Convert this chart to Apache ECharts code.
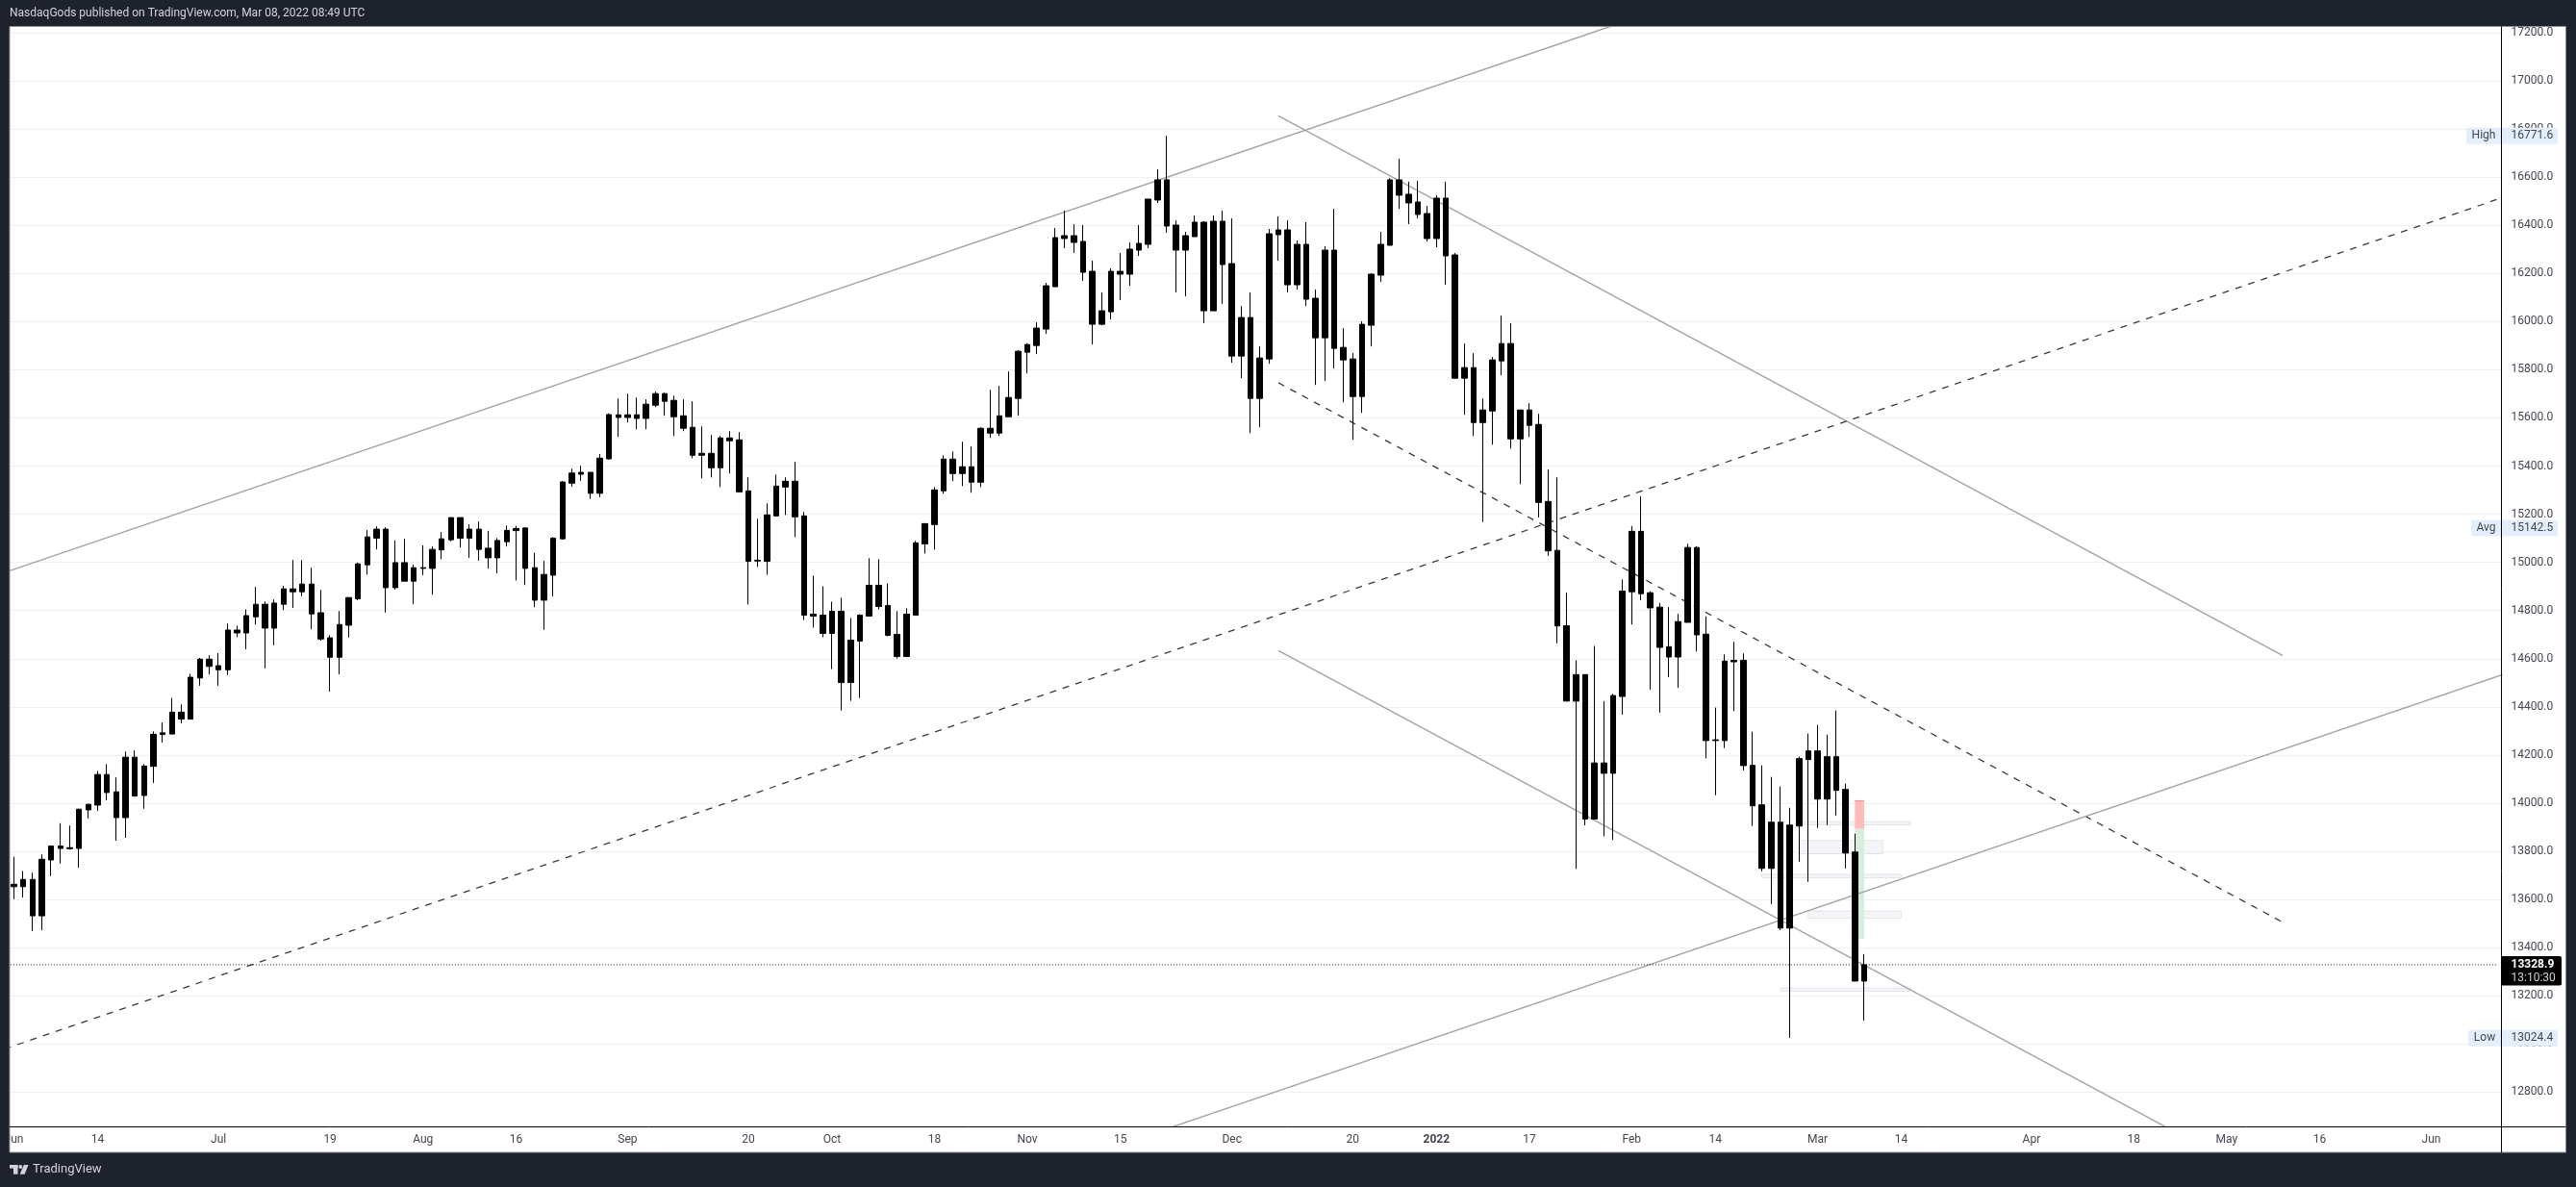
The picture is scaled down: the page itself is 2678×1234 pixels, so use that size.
<!DOCTYPE html>
<html><head><meta charset="utf-8">
<style>html,body{margin:0;padding:0;background:#1e222d}#c{width:2678px;height:1234px}</style>
<script src="https://cdn.jsdelivr.net/npm/echarts@6/dist/echarts.min.js"></script>
</head><body><div id="c"></div>
<script>
// Daily bars, Jun 2021 .. 8 Mar 2022. Up and down candles are painted the same black in the
// reference, so direction is not readable: the body is stored by its top and bottom edge.
const highs = [
13777,13718,13711,13787,13825,13917,13907,13975,13997,14134,
14162,14107,14214,14219,14162,14298,14335,14437,14410,14537,
14603,14615,14623,14746,14737,14805,14898,14838,14846,14903,
15010,15010,14978,14886,14698,14798,14854,14999,15134,15150,
15146,15091,15098,14991,15071,15066,15126,15186,15186,15158,
15170,15131,15101,15153,15152,15143,15040,15006,15105,15338,
15389,15401,15374,15450,15619,15681,15701,15685,15677,15709,
15705,15693,15677,15669,15565,15529,15525,15545,15541,15353,
15181,15245,15365,15353,15417,15209,14945,14901,14837,14853,
14769,14785,15017,15013,14913,14797,14809,15089,15161,15313,
15445,15461,15501,15481,15561,15717,15733,15793,15881,15910,
15997,16161,16389,16461,16405,16401,16253,16121,16221,16285,
16329,16401,16509,16633,16772,16421,16373,16441,16417,16441,
16461,16429,16065,16121,15897,16385,16437,16421,16337,16413,
16133,16313,16469,15973,15869,16001,16201,16373,16596,16677,
16581,16585,16481,16525,16581,16285,15909,15869,15681,15853,
16025,15993,15633,15661,15617,15386,15353,14874,14593,14534,
14653,14424,14454,14929,15151,15275,14880,14832,14814,14786,
15077,15066,14776,14397,14618,14670,14622,14297,14157,14109,
14069,13981,14193,14289,14325,14285,14385,14081,13873,13373];
const bodyTop = [
13663,13683,13683,13767,13822,13822,13815,13975,13995,14119,
14119,14047,14191,14191,14154,14286,14292,14378,14378,14523,
14598,14598,14571,14719,14719,14779,14826,14826,14831,14890,
14890,14910,14910,14791,14687,14742,14854,14994,15106,15138,
15138,14999,14999,14978,14978,15054,15098,15186,15186,15138,
15138,15059,15091,15133,15141,15143,14978,14950,15101,15334,
15371,15374,15374,15433,15614,15613,15613,15613,15657,15701,
15701,15673,15609,15561,15453,15453,15517,15517,15509,15297,
15009,15197,15317,15337,15337,15193,14785,14781,14797,14797,
14677,14781,14905,14905,14821,14701,14785,15081,15161,15301,
15429,15429,15397,15397,15557,15557,15609,15685,15877,15905,
15973,16149,16349,16357,16357,16333,16209,16045,16209,16209,
16301,16325,16509,16589,16589,16401,16357,16413,16413,16417,
16417,16241,16017,16017,15849,16365,16381,16381,16321,16321,
16097,16297,16297,15893,15845,15989,16197,16321,16589,16589,
16529,16497,16449,16513,16513,16277,15809,15809,15633,15841,
15909,15909,15633,15633,15573,15253,15050,14737,14534,14534,
14167,14167,14447,14881,15129,15129,14874,14814,14650,14754,
15062,15062,14702,14263,14590,14593,14593,14157,13993,13921,
13921,13909,14185,14217,14217,14193,14193,14057,13797,13329];
const bodyBottom = [
13653,13653,13532,13532,13764,13812,13811,13812,13972,13992,
14044,13940,13940,14030,14032,14153,14285,14287,14349,14349,
14520,14568,14554,14554,14707,14707,14774,14727,14727,14826,
14878,14878,14786,14682,14606,14606,14739,14849,14990,15101,
14895,14895,14922,14922,14975,14975,15052,15094,15101,15101,
15054,15019,15019,15086,15132,14975,14843,14843,14947,15098,
15329,15366,15287,15287,15430,15602,15602,15598,15598,15653,
15669,15605,15557,15445,15445,15393,15393,15505,15293,15005,
15006,15005,15193,15313,15189,14781,14777,14705,14705,14501,
14501,14673,14777,14817,14697,14609,14609,14781,15077,15157,
15297,15369,15369,15333,15333,15537,15537,15605,15681,15873,
15901,15969,16145,16345,16329,16205,15989,15989,16041,16197,
16197,16297,16321,16505,16397,16297,16297,16353,16045,16045,
16237,15857,15857,15681,15681,15845,16361,16153,16153,16093,
15933,15933,15889,15841,15689,15689,15985,16193,16317,16525,
16493,16445,16345,16345,16273,15765,15765,15581,15581,15629,
15837,15513,15513,15569,15249,15048,14736,14424,14424,13934,
13934,14124,14124,14443,14878,14870,14811,14647,14607,14607,
14751,14699,14260,14260,14260,14587,14156,13989,13729,13729,
13481,13481,13905,14181,14017,14017,14053,13793,13261,13261];
const lows = [
13601,13608,13469,13472,13697,13749,13807,13732,13936,13968,
14012,13844,13856,14027,13977,14084,14252,14287,14332,14349,
14488,14535,14488,14532,14690,14639,14742,14560,14656,14802,
14811,14860,14722,14675,14463,14535,14688,14843,14950,15054,
14792,14887,14922,14826,14947,14866,15014,15088,15062,15019,
15007,14974,14955,15066,14925,14906,14814,14720,14858,15095,
15314,15339,15264,15271,15427,15522,15581,15553,15553,15645,
15609,15525,15545,15433,15349,15353,15313,15369,15293,14825,
14981,14949,15193,15197,15105,14761,14729,14689,14557,14385,
14425,14437,14777,14805,14693,14601,14609,14781,15037,15053,
15285,15337,15317,15289,15313,15517,15525,15605,15609,15785,
15865,15949,16145,16305,16285,16169,15905,15985,16009,16089,
16149,16273,16305,16493,16369,16121,16105,16353,15993,16045,
16073,15829,15765,15537,15561,15825,16253,16121,16133,16065,
15737,15753,15805,15665,15509,15621,15897,16165,16317,16469,
16405,16429,16333,16309,16153,15765,15613,15525,15168,15489,
15777,15473,15325,15521,15187,15027,14664,14424,13727,13908,
13934,13862,13847,14367,14742,14843,14471,14376,14523,14479,
14751,14630,14186,14033,14229,14382,14136,13905,13717,13581,
13473,13025,13757,13673,13897,13909,13949,13729,13261,13097];

// Time axis: bar index of each tick, and its text.
const tickBars = [0,9,22,34,44,54,66,79,88,99,109,119,131,144,153,163,174,183,194,203,217,228,238,248,260];
const tickTexts = ['Jun','14','Jul','19','Aug','16','Sep','20','Oct','18','Nov','15','Dec','20','2022','17','Feb','14','Mar','14','Apr','18','May','16','Jun'];
// Price axis ticks.
const priceTicks = [12800,13000,13200,13400,13600,13800,14000,14200,14400,14600,14800,15000,15200,15400,15600,15800,16000,16200,16400,16600,16800,17000,17200];

// Drawn trend lines: bar index and price at both ends.
const lineStartBar   = [-1, 136, 136, 136, -1, 120];
const lineStartPrice = [14958, 16855, 15746, 14634, 12979, 12595];
const lineEndBar     = [172, 244, 244, 240, 270, 270];
const lineEndPrice   = [17230, 14614, 13506, 12478, 16546, 14564];
const lineDashed     = [false, false, true, false, true, false];

// Grey price zones.
const zoneStart  = [192, 192, 188, 193, 190];
const zoneEnd    = [204, 201, 203, 203, 204];
const zoneTop    = [13923, 13845, 13704, 13552, 13232];
const zoneBottom = [13910, 13790, 13690, 13522, 13219];

// Long-position tool: stop (red) and target (green) blocks.
const toolStart = 198, toolEnd = 199;
const toolStop = 14012, toolEntry = 13893, toolTarget = 13437;

const statLabels = ['High', 'Avg', 'Low'];
const statValues = [16771.6, 15142.5, 13024.4];
const lastPrice = 13328.9;
const countdown = '13:10:30';
const headerText = 'NasdaqGods published on TradingView.com, Mar 08, 2022 08:49 UTC';
const brandText = 'TradingView';

// ---- layout ----
const PAD = 1;
const LAST_BAR = 267;
const FIRST_X = 14.5, AXIS_X = 2600, TOP = 27.5, AXIS_Y = 1171, PANEL_R = 2667.5, PANEL_B = 1198;
const bandCount = LAST_BAR + PAD + 1;
const pxPerUnit = 0.2503;
const yMax = 17200 + (34 - TOP) / pxPerUnit;
const yMin = yMax - (AXIS_Y - TOP) / pxPerUnit;
const FONT = 'Roboto, sans-serif';
const TEXT = '#434651';

const categories = [];
for (let i = 0; i < bandCount; i++) categories.push('');
tickBars.forEach((b, i) => { categories[b + PAD] = tickTexts[i]; });

const candleRows = highs.map((h, i) => [i + PAD, bodyBottom[i], bodyTop[i], lows[i], h]);

const trendSeries = lineStartBar.map((s, i) => ({
  type: 'line', silent: true, symbol: 'none', z: 2, clip: true,
  data: [[s + PAD, lineStartPrice[i]], [lineEndBar[i] + PAD, lineEndPrice[i]]],
  lineStyle: lineDashed[i]
    ? { color: '#3a3a3a', width: 1.3, type: [7, 7] }
    : { color: '#a3a3a3', width: 1.4 }
}));

const zoneRows = zoneStart.map((s, i) => [s + PAD, zoneEnd[i] + PAD, zoneTop[i], zoneBottom[i], 0]);
const toolRows = [
  [toolStart + PAD, toolEnd + PAD, toolStop, toolEntry, 1],
  [toolStart + PAD, toolEnd + PAD, toolEntry, toolTarget, 2]
];

function renderBlock(params, api) {
  const a = api.coord([api.value(0), api.value(2)]);
  const b = api.coord([api.value(1), api.value(3)]);
  const kind = api.value(4);
  const shape = { x: a[0], y: a[1], width: b[0] - a[0], height: b[1] - a[1] };
  if (kind === 0) return { type: 'rect', shape, style: { fill: '#f5f5f9', stroke: '#e3e3ea', lineWidth: 1 } };
  if (kind === 1) return { type: 'group', children: [
    { type: 'rect', shape, style: { fill: '#fdbcb8' } },
    { type: 'rect', shape: { x: a[0], y: a[1], width: shape.width, height: 1 }, style: { fill: '#fb8f8a' } }
  ] };
  return { type: 'rect', shape, style: { fill: '#d6eedb' } };
}

function renderStat(params, api) {
  const y = api.coord([0, api.value(1)])[1];
  const left = [2564, 2569, 2566][params.dataIndex];
  return { type: 'group', children: [
    { type: 'rect', shape: { x: left, y: y - 8.5, width: 2659 - left, height: 17, r: 2 }, style: { fill: '#e3effc' } },
    { type: 'text', style: { x: (left + AXIS_X) / 2, y: y, text: statLabels[params.dataIndex], fill: TEXT, font: '12px ' + FONT, align: 'center', verticalAlign: 'middle' } },
    { type: 'text', style: { x: 2610.5, y: y, text: statValues[params.dataIndex].toFixed(1), fill: TEXT, font: '12px ' + FONT, align: 'left', verticalAlign: 'middle' } }
  ] };
}

function renderLast(params, api) {
  const y = api.coord([0, api.value(1)])[1];
  return { type: 'group', children: [
    { type: 'rect', shape: { x: AXIS_X, y: y - 9, width: 63, height: 30.6, r: [0, 2, 2, 0] }, style: { fill: '#000' } },
    { type: 'text', style: { x: 2610.5, y: y, text: lastPrice.toFixed(1), fill: '#fff', font: 'bold 12px ' + FONT, align: 'left', verticalAlign: 'middle' } },
    { type: 'text', style: { x: 2610.5, y: y + 14, text: countdown, fill: '#d0d0d0', font: '12px ' + FONT, align: 'left', verticalAlign: 'middle' } }
  ] };
}

const DARK = '#1e222d';
const chart = echarts.init(document.getElementById('c'), null, { renderer: 'canvas' });
chart.setOption({
  animation: false,
  backgroundColor: '#ffffff',
  grid: { left: 0, top: TOP, width: AXIS_X, height: AXIS_Y - TOP, containLabel: false },
  xAxis: {
    type: 'category', data: categories, min: 0, max: bandCount - 1, boundaryGap: true,
    axisLine: { show: false }, axisTick: { show: false }, splitLine: { show: false },
    axisLabel: {
      interval: 0, margin: 8, fontSize: 12, fontFamily: FONT, color: TEXT, hideOverlap: false,
      formatter: v => v === '2022' ? '{b|2022}' : v,
      rich: { b: { fontWeight: 'bold', fontSize: 12, fontFamily: FONT, color: TEXT } }
    }
  },
  yAxis: {
    type: 'value', position: 'right', min: yMin, max: yMax, scale: true,
    axisLine: { show: false },
    axisTick: { show: false, customValues: priceTicks },
    axisLabel: { customValues: priceTicks, margin: 10.5, fontSize: 12, fontFamily: FONT, color: TEXT, formatter: v => v.toFixed(1), showMinLabel: true, showMaxLabel: true },
    splitLine: { show: true, lineStyle: { color: '#eeeff1', width: 1 } }
  },
  series: [
    { type: 'custom', silent: true, z: 1, renderItem: renderBlock, encode: { x: [0, 1], y: [2, 3] }, data: zoneRows.concat(toolRows), clip: false },
    ...trendSeries,
    { type: 'line', silent: true, symbol: 'none', z: 2, data: [[0, lastPrice], [bandCount - 1, lastPrice]], lineStyle: { color: '#131722', width: 1, type: [1, 2] } },
    { type: 'candlestick', silent: true, z: 5, barWidth: 6,
      encode: { x: 0, y: [1, 2, 3, 4] },
      data: candleRows,
      itemStyle: { color: '#000', color0: '#000', borderColor: '#000', borderColor0: '#000', borderWidth: 1 } },
    { type: 'custom', silent: true, z: 10, renderItem: renderStat, clip: false, encode: { x: 0, y: 1 }, data: statValues.map(v => [0, v]) },
    { type: 'custom', silent: true, z: 10, renderItem: renderLast, clip: false, encode: { x: 0, y: 1 }, data: [[0, lastPrice]] }
  ],
  graphic: { elements: [
    { type: 'rect', z: 1000, silent: true, shape: { x: 0, y: 0, width: 2678, height: TOP }, style: { fill: DARK } },
    { type: 'rect', z: 1000, silent: true, shape: { x: 0, y: 0, width: 10, height: 1234 }, style: { fill: DARK } },
    { type: 'rect', z: 1000, silent: true, shape: { x: PANEL_R, y: 0, width: 2678 - PANEL_R, height: 1234 }, style: { fill: DARK } },
    { type: 'rect', z: 1000, silent: true, shape: { x: 0, y: PANEL_B, width: 2678, height: 36 }, style: { fill: DARK } },
    { type: 'rect', z: 1001, silent: true, shape: { x: 10, y: 27.5, width: PANEL_R - 10, height: PANEL_B - 27.5 }, style: { fill: 'none', stroke: '#8a8d96', lineWidth: 1 } },
    { type: 'line', z: 1001, silent: true, shape: { x1: AXIS_X + 0.5, y1: 27.5, x2: AXIS_X + 0.5, y2: PANEL_B }, style: { stroke: '#000', lineWidth: 1 } },
    { type: 'line', z: 1001, silent: true, shape: { x1: 10, y1: AXIS_Y + 0.5, x2: PANEL_R, y2: AXIS_Y + 0.5 }, style: { stroke: '#000', lineWidth: 1 } },
    { type: 'text', z: 1002, silent: true, style: { x: 10, y: 14, text: headerText, fill: '#d1d4dc', font: '12px ' + FONT, verticalAlign: 'middle' } },
    { type: 'text', z: 1002, silent: true, style: { x: 34, y: 1216, text: brandText, fill: '#d1d4dc', font: '13px ' + FONT, verticalAlign: 'middle' } },
    { type: 'rect', z: 1002, silent: true, shape: { x: 10, y: 1211, width: 8.5, height: 3.6 }, style: { fill: '#d1d4dc' } },
    { type: 'rect', z: 1002, silent: true, shape: { x: 14, y: 1211, width: 4.5, height: 9.7 }, style: { fill: '#d1d4dc' } },
    { type: 'circle', z: 1002, silent: true, shape: { cx: 21.3, cy: 1213, r: 1.9 }, style: { fill: '#d1d4dc' } },
    { type: 'polygon', z: 1002, silent: true, shape: { points: [[24.8, 1211], [29.5, 1211], [25.6, 1220.7], [20.6, 1220.7]] }, style: { fill: '#d1d4dc' } }
  ] }
});
</script></body></html>
